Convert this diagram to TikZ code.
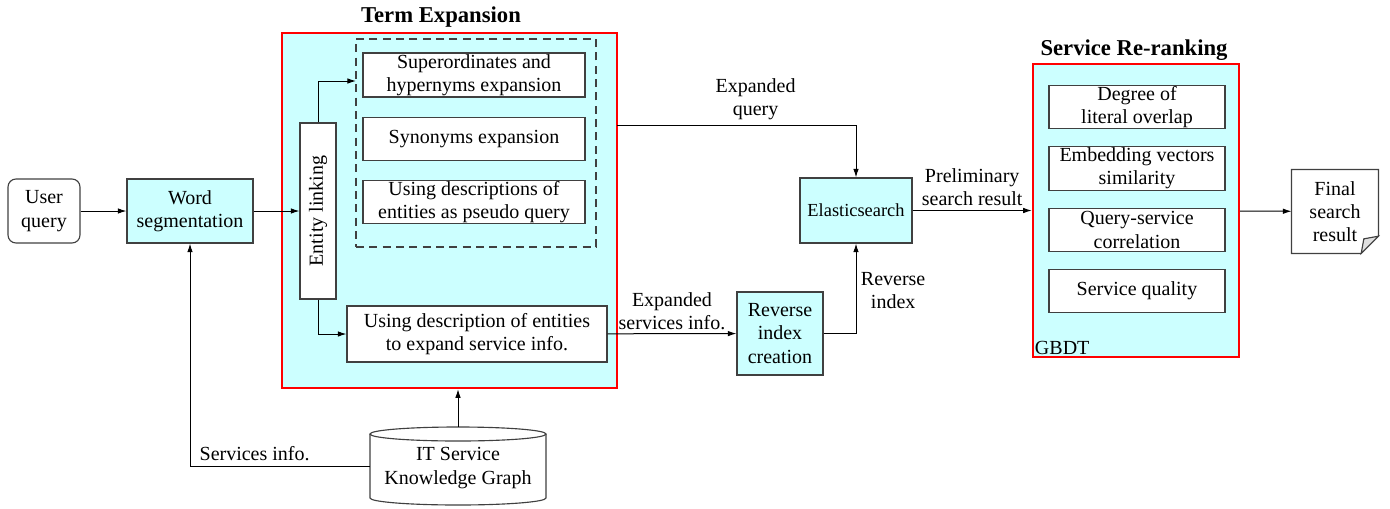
\documentclass[tikz,border=0pt]{standalone}
\usepackage{fontspec}
\setmainfont{Liberation Serif}
\usepackage{tikz}
\usetikzlibrary{positioning}
\usetikzlibrary{arrows.meta}
\definecolor{paleCyan}{RGB}{204,255,255}
\definecolor{edgeGray}{RGB}{64,64,64}

\begin{document}
\begin{tikzpicture}[x=0.75pt, y=-0.75pt, line width=0.75pt,
  font=\fontsize{15}{17.5}\selectfont,
  box/.style={draw=edgeGray, line width=0.85pt, align=center, inner sep=0pt},
  cbox/.style={box, fill=paleCyan},
  wbox/.style={box, fill=white},
  frame/.style={draw=red, line width=1.8pt, fill=paleCyan, inner sep=0pt},
  title/.style={font=\fontsize{17}{20}\selectfont\bfseries},
  arr/.style={-{Latex[length=6.5pt,width=4.2pt]}}]
\useasboundingbox (0,0) rectangle (1390,508);
% -- input side --
\node[box, rounded corners=6pt, minimum width=72*0.75pt, minimum height=64*0.75pt] (user) at (44,211) {User\\query};
\node[cbox, minimum width=126*0.75pt, minimum height=64*0.75pt] (wordseg) at (190,211) {Word\\segmentation};
% -- term expansion --
\node[frame, minimum width=335*0.75pt, minimum height=355*0.75pt] (term) at (449.5,210.5) {};
\node[title, anchor=south] (termtitle) at (441,32) {Term Expansion};
\node[box, rotate=90, fill=white, minimum width=176*0.75pt, minimum height=36*0.75pt] (entity) at (318,211) {Entity linking};
\node[draw=edgeGray, line width=0.85pt, dash pattern=on 6pt off 4pt, minimum width=240*0.75pt, minimum height=208*0.75pt] (dash) at (476,143) {};
\node[wbox, minimum width=222*0.75pt, minimum height=44*0.75pt] (sup) at (474,75) {Superordinates and\\hypernyms expansion};
\node[wbox, minimum width=222*0.75pt, minimum height=43*0.75pt] (syn) at (474,139) {Synonyms expansion};
\node[wbox, minimum width=222*0.75pt, minimum height=43*0.75pt] (pseudo) at (474,202) {Using descriptions of\\entities as pseudo query};
\node[wbox, minimum width=260*0.75pt, minimum height=56*0.75pt] (usedesc) at (477,334) {Using description of entities\\to expand service info.};
\coordinate (dashin) at (356,81);
\coordinate (qout) at (617,125);
% -- search --
\node[cbox, font=\fontsize{13.8}{16}\selectfont, minimum width=112*0.75pt, minimum height=65*0.75pt] (elastic) at (856,210.5) {Elasticsearch};
\node[cbox, minimum width=86*0.75pt, minimum height=83*0.75pt] (revidx) at (780,333.5) {Reverse\\index\\creation};
% -- service re-ranking --
\node[frame, minimum width=206*0.75pt, minimum height=293*0.75pt] (rerank) at (1136,210.5) {};
\node[title, anchor=south] (reranktitle) at (1134,65) {Service Re-ranking};
\node[wbox, minimum width=176*0.75pt, minimum height=43*0.75pt] (overlap) at (1137,107) {Degree of\\literal overlap};
\node[wbox, minimum width=176*0.75pt, minimum height=44*0.75pt] (embed) at (1137,168.5) {Embedding vectors\\similarity};
\node[wbox, minimum width=176*0.75pt, minimum height=43*0.75pt] (corr) at (1137,230) {Query-service\\correlation};
\node[wbox, minimum width=176*0.75pt, minimum height=43*0.75pt] (quality) at (1137,291) {Service quality};
\node[anchor=south west, inner sep=2pt] (gbdt) at (rerank.south west) {GBDT};
% -- final result, folded sheet --
\node[align=center, inner sep=0pt, minimum width=86*0.75pt, minimum height=83*0.75pt] (final) at (1335,211.5) {Final\\search\\result};
\draw[edgeGray, line width=0.85pt, fill=white] (final.north west) -- (final.north east) -- ([yshift=13pt]final.south east) -- ([xshift=-13pt]final.south east) -- (final.south west) -- cycle;
\draw[edgeGray, line width=0.85pt, fill=gray!25] ([yshift=13pt]final.south east) -- ([xshift=-13pt]final.south east) -- ([xshift=-11pt,yshift=11pt]final.south east) -- cycle;
\node[align=center, inner sep=0pt] at (final) {Final\\search\\result};
% -- knowledge graph, drawn as a drum --
\node[align=center, inner sep=0pt, minimum width=176*0.75pt, minimum height=78*0.75pt] (kg) at (458,466) {};
\draw[edgeGray, line width=0.85pt, fill=white] (370,434) -- (370,498) arc[start angle=180, end angle=0, x radius=88, y radius=7] -- (546,434);
\draw[edgeGray, line width=0.85pt, fill=white] (458,434) ellipse [x radius=88, y radius=7];
\node[align=center, inner sep=0pt] at (458,468) {IT Service\\Knowledge Graph};
% -- connectors --
\draw[arr] (user) -- (wordseg);
\draw[arr] (wordseg) -- (entity);
\draw[arr] (entity.east) |- (dashin);
\draw[arr] (entity.west) |- (usedesc.west);
\draw[arr] (qout) -| node[pos=0.29, above, align=center] {Expanded\\query} (elastic.north);
\draw[arr] (elastic) -- node[above, align=center] {Preliminary\\search result} (rerank);
\draw[arr] (rerank) -- (final);
\draw[arr] (usedesc) -- node[above, align=center, yshift=-1pt] {Expanded\\services info.} (revidx);
\draw[arr] (revidx) -| node[pos=0.74, right, align=center] {Reverse\\index} (elastic.south);
\draw[arr] (kg.north) -- (kg.north |- term.south);
\draw[arr] (kg.west) -| node[pos=0.32, above] {Services info.} (wordseg.south);
\end{tikzpicture}
\end{document}
